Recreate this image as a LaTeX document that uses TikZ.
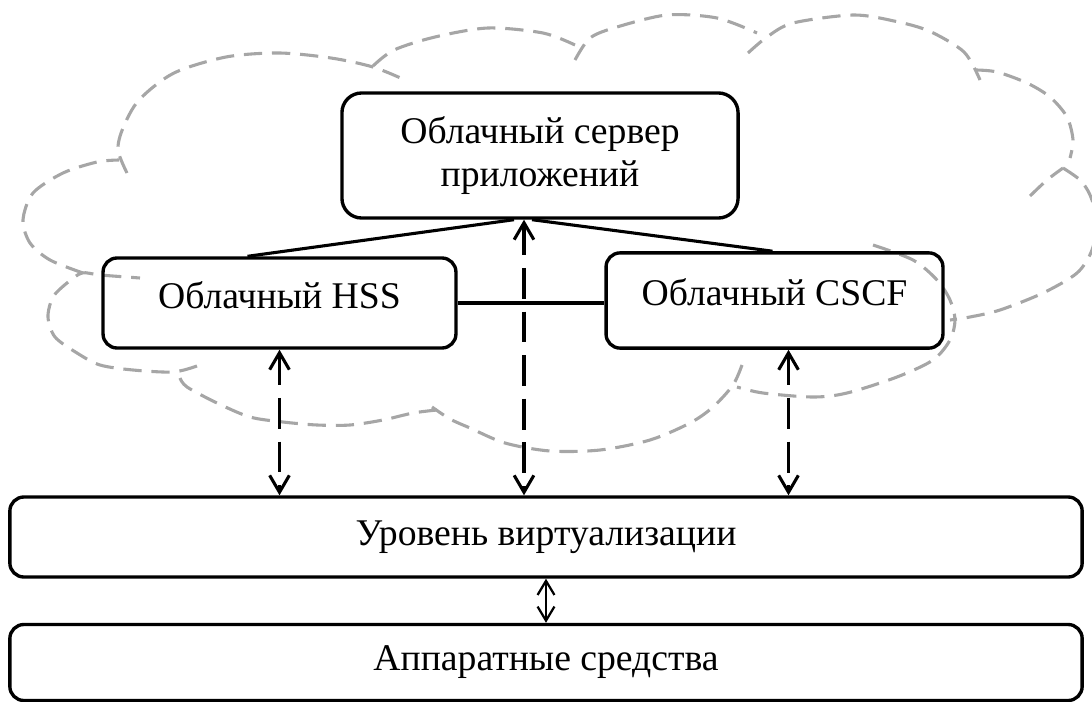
\documentclass[tikz,border=0pt]{standalone}
\usepackage{fontspec}
\setmainfont{Liberation Serif}
\usepackage{tikz}
\usetikzlibrary{arrows.meta,positioning,calc}
\usepackage{xcolor}
\definecolor{cloudgray}{RGB}{166,166,166}
\tikzstyle{block} = [draw, line width=1.2pt, rounded corners=5pt, align=center]
\tikzstyle{cloudline} = [cloudgray, line width=1.1pt, dash pattern=on 6.5pt off 3.5pt]
\tikzstyle{link} = [line width=1.1pt]
\tikzstyle{dasharrow} = [line width=1.1pt, dash pattern=on 11pt off 4.5pt, {Straight Barb[length=6pt,width=7pt]}-{Straight Barb[length=6pt,width=7pt]}]
\tikzstyle{bothway} = [line width=0.8pt, {Straight Barb[length=5pt,width=6pt]}-{Straight Barb[length=5pt,width=6pt]}]

\begin{document}
\begin{tikzpicture}[x=0.0125cm, y=-0.0125cm, font=\fontsize{13.4}{15.6}\selectfont]
\useasboundingbox (0,0) rectangle (1092,702);

% Cloud
\draw[cloudline] plot[smooth] coordinates {(83,273) (50,260) (30,243) (23,220) (33,193) (63,173) (97,162) (119,160)};
\draw[cloudline] plot[smooth] coordinates {(127,173) (118,150) (123,128) (139,100) (174,73) (226,57) (279,53) (331,58) (373,67) (405,80)};
\draw[cloudline] plot[smooth] coordinates {(373,66) (394,50) (435,37) (488,28) (543,33) (575,45)};
\draw[cloudline] plot[smooth] coordinates {(575,60) (590,38) (617,27) (667,15) (717,18) (757,33)};
\draw[cloudline] plot[smooth] coordinates {(748,53) (767,37) (793,23) (853,15) (894,21) (929,31) (964,52) (980,80)};
\draw[cloudline] plot[smooth] coordinates {(976,70) (997,72) (1027,83) (1050,97) (1067,117) (1073,140) (1070,158)};
\draw[cloudline] plot[smooth] coordinates {(1030,196) (1047,180) (1063,168)};
\draw[cloudline] plot[smooth] coordinates {(1063,168) (1080,180) (1090,195) (1097,220) (1092,250) (1077,273) (1043,293) (1000,310) (970,317) (950,320)};
\draw[cloudline] plot[smooth] coordinates {(873,245) (913,260) (937,280) (950,300) (955,320) (950,340) (933,360) (897,377) (847,393) (813,397) (763,393) (737,387)};
\draw[cloudline] plot[smooth] coordinates {(742,365) (733,385) (713,407) (690,423) (650,440) (600,450) (550,451) (505,443) (470,428) (450,419) (432,407)};
\draw[cloudline] plot[smooth] coordinates {(437,410) (413,413) (383,420) (350,425) (317,425) (283,422) (250,417) (217,403) (187,387) (180,378)};
\draw[cloudline] plot[smooth] coordinates {(197,366) (173,372) (133,370) (100,365) (77,353) (55,337) (48,317) (53,297) (67,283) (82,273) (100,275) (140,278)};

% Blocks
\node[block, minimum width=4.95cm, minimum height=1.5625cm, rounded corners=7pt] (srv) at (540,155.5) {Облачный сервер\\приложений};
\node[block, minimum width=4.41cm, minimum height=1.125cm, text depth=0.2cm] (hss) at (279.5,303) {Облачный HSS};
\node[block, minimum width=4.21cm, minimum height=1.19cm, text depth=0.2cm] (cscf) at (774.5,300.5) {Облачный CSCF};
\node[block, minimum width=13.4cm, minimum height=1cm] (virt) at (546,537) {Уровень виртуализации};
\node[block, minimum width=13.4cm, minimum height=0.95cm] (hw) at (546,662.5) {Аппаратные средства};

% Links
\draw[link] ($(hss.north)+(-32,0)$) -- ($(srv.south)+(-26,0)$);
\draw[link] ($(srv.south)+(-8,0)$) -- ($(cscf.north)+(-2,0)$);
\draw[link] (hss.east) -- (hss.east -| cscf.west);

% Arrows
\draw[dasharrow] (hss.south) -- (hss.south |- virt.north);
\draw[dasharrow] ($(srv.south)+(-16,0)$) -- ($(srv.south |- virt.north)+(-16,0)$);
\draw[dasharrow] ($(cscf.south)+(14,0)$) -- ($(cscf.south |- virt.north)+(14,0)$);
\draw[bothway] (virt.south) -- (hw.north);
\end{tikzpicture}
\end{document}
